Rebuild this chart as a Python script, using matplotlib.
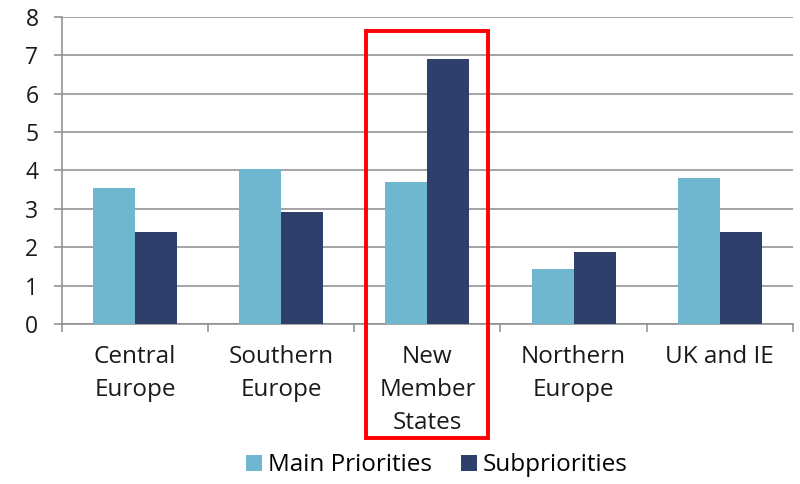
import numpy as np
import matplotlib
matplotlib.use("Agg")
import matplotlib.pyplot as plt
from matplotlib.patches import Rectangle

plt.rcParams['font.family'] = ['Open Sans', 'DejaVu Sans']

categories = ["Central\nEurope", "Southern\nEurope", "New\nMember\nStates", "Northern\nEurope", "UK and IE"]
main_priorities = [3.55, 4.05, 3.7, 1.43, 3.8]
subpriorities = [2.4, 2.93, 6.9, 1.88, 2.4]
highlight = 2  # New Member States

c_main = "#6fb7ce"
c_sub = "#2e3f6b"
grey = "#8c8c8c"

fig = plt.figure(figsize=(8, 4.84), dpi=100)
ax = fig.add_axes([0.0775, 0.3306, 0.9135, 0.6343])

x = np.arange(len(categories))
w = 0.287
ax.bar(x - w / 2, main_priorities, w, color=c_main, label="Main Priorities", zorder=3)
ax.bar(x + w / 2, subpriorities, w, color=c_sub, label="Subpriorities", zorder=3)

ax.set_xlim(-0.5, len(categories) - 0.5)
ax.set_ylim(0, 8)
ax.set_yticks(range(0, 9))
ax.yaxis.grid(True, color=grey, lw=1.1, zorder=0)

ax.set_xticks(x)
ax.set_xticklabels(categories, linespacing=1.5)
ax.set_xticks(np.arange(-0.5, len(categories)), minor=True)
ax.tick_params(axis='x', which='major', length=0, pad=15, labelsize=17.5, colors='#1a1a1a')
ax.tick_params(axis='x', which='minor', length=6, width=1.1, color=grey)
ax.tick_params(axis='y', length=6, width=1.1, color=grey, pad=11, labelsize=16.5, labelcolor='#1a1a1a')

for s in ['top', 'right']:
    ax.spines[s].set_visible(False)
for s in ['left', 'bottom']:
    ax.spines[s].set_color(grey)
    ax.spines[s].set_linewidth(1.1)

# red box around the highlighted group
ax.add_patch(Rectangle((highlight - 0.418, -2.97), 0.836, 10.6, fill=False,
                       edgecolor='#ff0000', lw=2.8, clip_on=False, zorder=5))

ax.legend(loc='upper center', bbox_to_anchor=(0.513, -0.39), ncol=2, frameon=False,
          fontsize=17.5, handlelength=0.65, handleheight=0.65, handletextpad=0.25,
          columnspacing=1.2, borderaxespad=0)

fig.savefig("out.png", dpi=100)
